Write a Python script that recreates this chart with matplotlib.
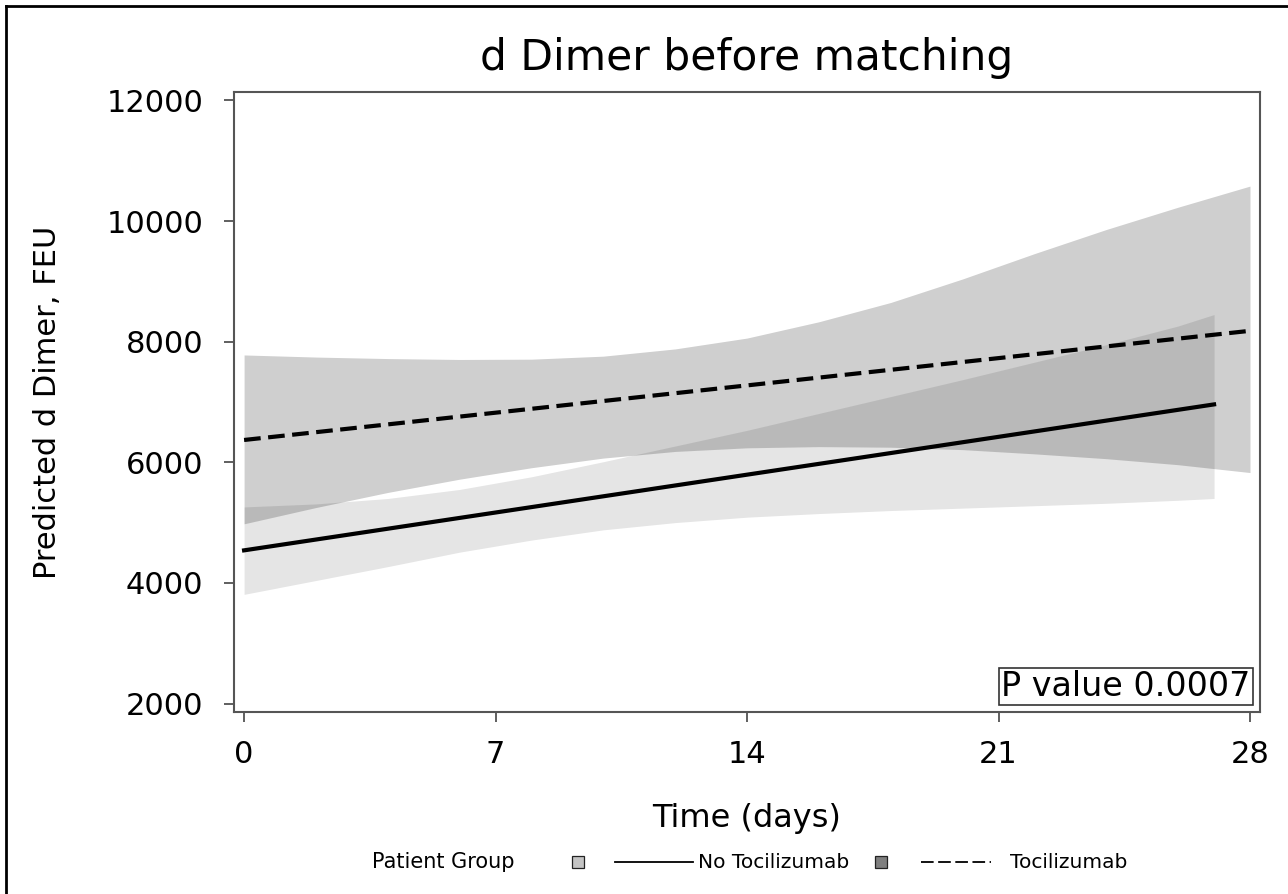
import matplotlib
matplotlib.use("Agg")
from matplotlib import pyplot as plt
from matplotlib.lines import Line2D
from matplotlib.patches import Rectangle

# fitted lines
line_days_toc = [0, 28]
line_toc = [6370, 8180]
line_days_no = [0, 27]
line_no = [4540, 6960]

# confidence bands
band_days_toc = [0, 2, 4, 6, 8, 10, 12, 14, 16, 18, 20, 22, 24, 26, 28]
toc_upper = [7780, 7745, 7720, 7705, 7710, 7760, 7880, 8060, 8330, 8650,
             9040, 9460, 9860, 10230, 10580]
toc_lower = [4980, 5250, 5500, 5720, 5910, 6070, 6180, 6240, 6260, 6250,
             6210, 6140, 6060, 5960, 5830]

band_days_no = [0, 2, 4, 6, 8, 10, 12, 14, 16, 18, 20, 22, 24, 26, 27]
no_upper = [5260, 5310, 5400, 5550, 5760, 6010, 6270, 6530, 6810, 7090,
            7370, 7660, 7950, 8260, 8450]
no_lower = [3810, 4040, 4270, 4510, 4710, 4880, 5000, 5090, 5150, 5200,
            5240, 5280, 5320, 5370, 5400]

x_ticks = [0, 7, 14, 21, 28]
y_ticks = [2000, 4000, 6000, 8000, 10000, 12000]

W, H = 1288, 894
fig = plt.figure(figsize=(W / 100, H / 100), dpi=100)
ax = fig.add_axes([0.1817, 0.2036, 0.7966, 0.6935])

ax.fill_between(band_days_toc, toc_lower, toc_upper, color="black",
                alpha=0.19, linewidth=0)
ax.fill_between(band_days_no, no_lower, no_upper, color="black",
                alpha=0.10, linewidth=0)
ax.plot(line_days_no, line_no, color="black", linewidth=3)
ax.plot(line_days_toc, line_toc, color="black", linewidth=3,
        linestyle=(0, (4, 1.8)))

ax.set_xlim(-0.28, 28.28)
ax.set_ylim(1860, 12140)
ax.set_xticks(x_ticks)
ax.set_yticks(y_ticks)
ax.tick_params(direction="out", length=7, width=1.2, color="#444444",
               labelsize=22)
ax.tick_params(axis="y", pad=15)
ax.tick_params(axis="x", pad=13)
for s in ax.spines.values():
    s.set_color("#555555")
    s.set_linewidth(1.5)

ax.set_title("d Dimer before matching", fontsize=30.5, pad=16)
ax.set_xlabel("Time (days)", fontsize=23, labelpad=25)
ax.set_ylabel("Predicted d Dimer, FEU", fontsize=22, labelpad=32)

ax.text(0.991, 0.014, "P value 0.0007", transform=ax.transAxes,
        ha="right", va="bottom", fontsize=24,
        bbox=dict(boxstyle="square,pad=0.06", facecolor="white",
                  edgecolor="#333333", linewidth=1.2))

# legend row at the bottom
ly = 1 - 862 / H
fig.text(372 / W, ly, "Patient Group", fontsize=15, va="center")
fig.add_artist(Rectangle((572 / W, ly - 6 / H), 12 / W, 12 / H,
                         facecolor="#c4c4c4", edgecolor="#222222",
                         linewidth=0.9, transform=fig.transFigure))
fig.add_artist(Line2D([615 / W, 693 / W], [ly, ly], color="black",
                      linewidth=1.3, transform=fig.transFigure))
fig.text(698 / W, ly, "No Tocilizumab", fontsize=14.5, va="center")
fig.add_artist(Rectangle((875 / W, ly - 6 / H), 12 / W, 12 / H,
                         facecolor="#7f7f7f", edgecolor="#222222",
                         linewidth=0.9, transform=fig.transFigure))
fig.add_artist(Line2D([921 / W, 991 / W], [ly, ly], color="black",
                      linewidth=1.3, linestyle=(0, (7, 2.5)),
                      transform=fig.transFigure))
fig.text(1010 / W, ly, "Tocilizumab", fontsize=14.5, va="center")

# frame on left and top of the figure
fig.add_artist(Line2D([0.0045, 0.0045], [0, 0.993], color="black",
                      linewidth=2, transform=fig.transFigure))
fig.add_artist(Line2D([0.0045, 1], [0.993, 0.993], color="black",
                      linewidth=2, transform=fig.transFigure))

fig.savefig("out.png", dpi=100)
